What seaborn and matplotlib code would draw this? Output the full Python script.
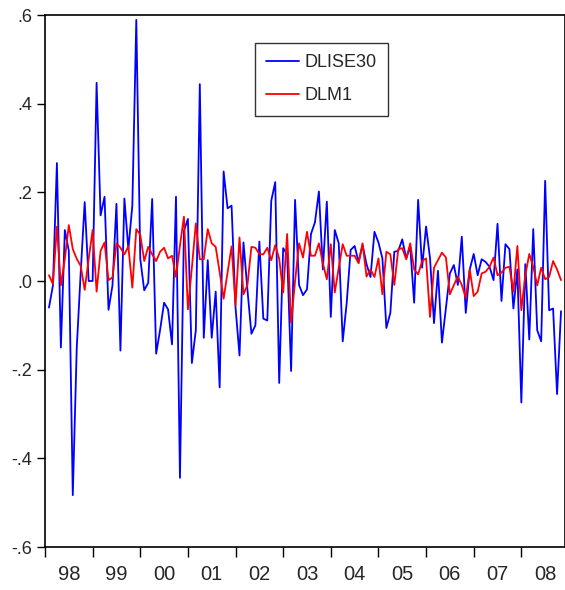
import numpy as np
import pandas as pd
import matplotlib
matplotlib.use("Agg")
import matplotlib.pyplot as plt
from matplotlib import font_manager
import seaborn as sns

# monthly values, 1998M02 .. 2008M11
dlise30 = [-0.060, -0.010, 0.266, -0.150, 0.115, 0.068, -0.483, -0.150, 0.020, 0.178,
           0.000, 0.000, 0.447, 0.148, 0.190, -0.065, -0.010, 0.174, -0.157, 0.186,
           0.072, 0.170, 0.589, 0.050, -0.021, -0.004, 0.185, -0.164, -0.110, -0.049,
           -0.064, -0.143, 0.190, -0.444, 0.113, 0.140, -0.185, -0.111, 0.444, -0.128,
           0.047, -0.128, -0.024, -0.240, 0.247, 0.164, 0.170, -0.060, -0.168, 0.087,
           -0.020, -0.119, -0.100, 0.089, -0.085, -0.089, 0.181, 0.223, -0.230, 0.074,
           0.060, -0.203, 0.183, -0.009, -0.032, -0.019, 0.106, 0.132, 0.202, 0.026,
           0.179, -0.081, 0.115, 0.085, -0.136, -0.050, 0.070, 0.079, 0.043, 0.081,
           0.038, 0.009, 0.111, 0.087, 0.051, -0.106, -0.072, 0.066, 0.068, 0.094,
           0.051, 0.078, -0.049, 0.183, 0.030, 0.123, 0.051, -0.095, 0.023, -0.139,
           -0.060, 0.017, 0.036, -0.009, 0.100, -0.072, 0.026, 0.061, 0.013, 0.049,
           0.043, 0.032, 0.002, 0.129, -0.045, 0.083, 0.072, -0.062, 0.026, -0.274,
           0.038, -0.132, 0.117, -0.111, -0.136, 0.226, -0.066, -0.062, -0.255, -0.068]

dlm1 = [0.013, -0.007, 0.123, -0.010, 0.050, 0.126, 0.072, 0.050, 0.034, -0.020,
        0.050, 0.115, -0.024, 0.068, 0.087, 0.002, 0.008, 0.085, 0.075, 0.060,
        0.078, -0.015, 0.117, 0.104, 0.045, 0.077, 0.060, 0.045, 0.066, 0.075,
        0.051, 0.057, 0.009, 0.080, 0.145, -0.064, 0.030, 0.130, 0.049, 0.049,
        0.117, 0.085, 0.077, 0.020, -0.040, 0.020, 0.078, -0.055, 0.098, -0.030,
        -0.009, 0.077, 0.075, 0.061, 0.060, 0.075, 0.047, 0.081, 0.050, -0.026,
        0.106, -0.094, 0.000, 0.085, 0.053, 0.111, 0.057, 0.057, 0.085, 0.040,
        0.004, 0.083, -0.026, 0.030, 0.083, 0.057, 0.057, 0.057, 0.040, 0.085,
        0.010, 0.026, 0.009, 0.051, -0.030, 0.066, 0.060, -0.009, 0.072, 0.074,
        0.049, 0.085, 0.026, 0.015, 0.045, 0.051, -0.081, 0.030, 0.047, 0.064,
        0.053, -0.030, -0.009, 0.010, -0.009, -0.038, 0.026, -0.034, -0.024, 0.017,
        0.021, 0.032, 0.053, 0.013, 0.019, 0.030, 0.032, -0.024, 0.079, -0.066,
        0.013, 0.061, 0.032, -0.010, 0.030, 0.004, 0.009, 0.045, 0.026, 0.002]

year_labels = ["98", "99", "00", "01", "02", "03", "04", "05", "06", "07", "08"]
y_ticks = [-0.6, -0.4, -0.2, 0.0, 0.2, 0.4, 0.6]
y_labels = ["-.6", "-.4", "-.2", ".0", ".2", ".4", ".6"]

months = np.arange(1, len(dlise30) + 1)   # 0 = start of 1998
df = pd.DataFrame({"month": np.concatenate([months, months]),
                   "value": dlise30 + dlm1,
                   "series": ["DLISE30"] * len(dlise30) + ["DLM1"] * len(dlm1)})

sns.set_style("white")
installed = {f.name for f in font_manager.fontManager.ttflist}
narrow = "Liberation Sans Narrow" in installed
plt.rcParams['font.family'] = ['Liberation Sans Narrow', 'Liberation Sans', 'DejaVu Sans'] if narrow \
    else ['Liberation Sans', 'DejaVu Sans']

fig = plt.figure(figsize=(5.65, 5.9), dpi=100)
ax = fig.add_axes([45 / 565, 1 - 547 / 590, 520 / 565, 532 / 590])

sns.lineplot(data=df, x="month", y="value", hue="series",
             palette={"DLISE30": "#0000ff", "DLM1": "#ff0000"},
             linewidth=1.3, ax=ax)

ax.set_xlim(0, 131)
ax.set_ylim(-0.6, 0.6)
ax.set_xlabel("")
ax.set_ylabel("")

ax.set_xticks(np.arange(0, 131, 12))
ax.set_xticklabels([])
ax.set_xticks(np.arange(6, 131, 12), minor=True)
ax.set_xticklabels(year_labels, minor=True)
ax.tick_params(axis="x", which="major", bottom=True, direction="out", length=7.5, width=1, color="black")
ax.tick_params(axis="x", which="minor", bottom=True, length=0, labelsize=17 if narrow else 14.5, pad=13)

ax.set_yticks(y_ticks)
ax.set_yticklabels(y_labels)
ax.tick_params(axis="y", left=True, direction="out", length=5.8, width=1, color="black",
               labelsize=13, pad=3.5)

for s in ax.spines.values():
    s.set_color("black")
    s.set_linewidth(1.2)

leg = ax.legend(loc="upper left", bbox_to_anchor=(0.404, 0.948), fontsize=15 if narrow else 13,
                frameon=True, fancybox=False, edgecolor="black", handlelength=1.8,
                borderpad=0.62, labelspacing=0.92, handletextpad=0.3, borderaxespad=0)
leg.get_frame().set_linewidth(1.0)
for line in leg.get_lines():
    line.set_linewidth(1.3)

fig.savefig("out.png", dpi=100)
